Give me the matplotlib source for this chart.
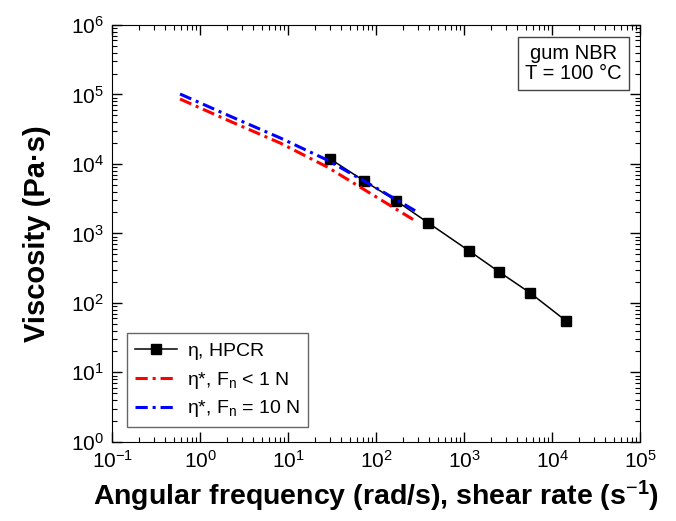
import numpy as np
import matplotlib
matplotlib.use("Agg")
from matplotlib import pyplot as plt
from matplotlib.ticker import LogLocator, NullFormatter

plt.rcParams['font.family'] = ['Liberation Sans', 'DejaVu Sans']
plt.rcParams['mathtext.fontset'] = 'custom'
plt.rcParams['mathtext.rm'] = 'Liberation Sans'
plt.rcParams['mathtext.it'] = 'Liberation Sans:italic'
plt.rcParams['mathtext.bf'] = 'Liberation Sans:bold'

# HPCR steady shear viscosity
hpcr_rate = [30, 73, 169, 390, 1140, 2500, 5620, 14400]
hpcr_eta = [11800, 5690, 2940, 1420, 560, 279, 139, 55]

# complex viscosity, Fn < 1 N
red_w = [0.59, 2.2, 8.1, 27.7, 100, 292]
red_eta = [86000, 41000, 20000, 9060, 3350, 1460]

# complex viscosity, Fn = 10 N
blue_w = [0.59, 2.2, 8.1, 27.7, 100, 292]
blue_eta = [101600, 48500, 23700, 11400, 4520, 2040]

fig = plt.figure(figsize=(6.76, 5.21), dpi=100)
ax = fig.add_axes([0.166, 0.152, 0.781, 0.8])

ax.plot(hpcr_rate, hpcr_eta, color='black', lw=1.1, marker='s', ms=6.5,
        label=r'$\mathregular{\eta}$, HPCR')
ax.plot(red_w, red_eta, color='red', lw=2.2, dashes=(4, 1.6, 1, 1.6),
        label=r'$\mathregular{\eta}$*, F$_\mathregular{n}$ < 1 N')
ax.plot(blue_w, blue_eta, color='blue', lw=2.2, dashes=(4, 1.6, 1, 1.6),
        label=r'$\mathregular{\eta}$*, F$_\mathregular{n}$ = 10 N')

ax.set_xscale('log')
ax.set_yscale('log')
ax.set_xlim(1e-1, 1e5)
ax.set_ylim(1e0, 1e6)
ax.xaxis.set_major_locator(LogLocator(base=10, numticks=10))
ax.yaxis.set_major_locator(LogLocator(base=10, numticks=10))
ax.xaxis.set_minor_locator(LogLocator(base=10, subs=np.arange(2, 10), numticks=10))
ax.yaxis.set_minor_locator(LogLocator(base=10, subs=np.arange(2, 10), numticks=10))
ax.xaxis.set_minor_formatter(NullFormatter())
ax.yaxis.set_minor_formatter(NullFormatter())
ax.tick_params(which='both', direction='in', top=True, right=True, labelsize=15)
ax.tick_params(which='major', length=7, width=1)
ax.tick_params(which='minor', length=3.5, width=0.8)
ax.tick_params(axis='x', pad=6)
ax.tick_params(axis='y', pad=6)

ax.set_xlabel('Angular frequency (rad/s), shear rate (s$^{\u2212\mathregular{1}}$)',
              fontsize=20.5, fontweight='bold', labelpad=5)
ax.set_ylabel('Viscosity (Pa\u00b7s)', fontsize=21, fontweight='bold', labelpad=14)

leg = ax.legend(loc='lower left', fontsize=14, fancybox=False, framealpha=1,
                edgecolor='#666666', borderaxespad=0.75, handlelength=2.2,
                borderpad=0.4, labelspacing=0.4, handletextpad=0.5)
leg.get_frame().set_linewidth(1.0)

ax.text(0.965, 0.955, 'gum NBR\nT = 100 \u00b0C', transform=ax.transAxes,
        ha='right', va='top', fontsize=14.5, linespacing=1.1, multialignment='center',
        bbox=dict(boxstyle='square,pad=0.35', fc='white', ec='#444444', lw=1))

fig.savefig('out.png', dpi=100)
